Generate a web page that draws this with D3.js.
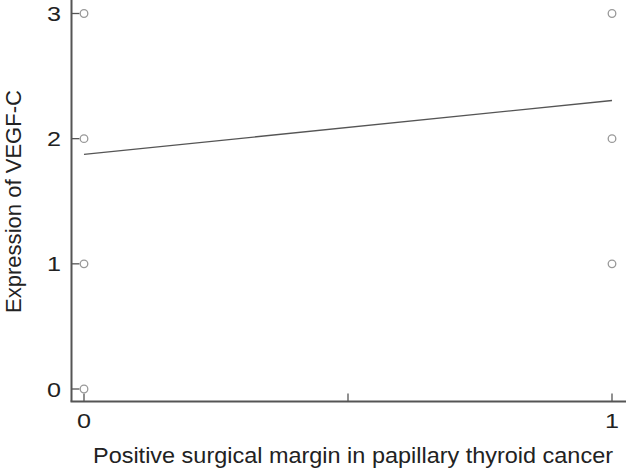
<!DOCTYPE html>
<html>
<head>
<meta charset="utf-8">
<script src="https://cdn.jsdelivr.net/npm/d3@7"></script>
<style>
  body { margin: 0; background: #fff; }
  text { font-family: "Liberation Sans", Arial, sans-serif; fill: #222; }
</style>
</head>
<body>
<svg width="628" height="468"></svg>
<script>
// observed points (margin group vs VEGF-C score)
var margin_x = [0, 0, 0, 0, 1, 1, 1];
var vegf_y   = [0, 1, 2, 3, 1, 2, 3];

// fitted line
var fit_x = [0, 1];
var fit_y = [1.875, 2.305];

var xTicks = [0, 0.5, 1];
var xTickLabels = ["0", "", "1"];
var yTicks = [0, 1, 2, 3];

var svg = d3.select("svg");

// scales
var x = d3.scaleLinear().domain([0, 1]).range([84, 612]);
var y = d3.scaleLinear().domain([0, 3]).range([389, 13.5]);

var axisX = 71.5, axisY = 401.5;

// y axis
svg.append("line")
  .attr("x1", axisX).attr("x2", axisX)
  .attr("y1", 0).attr("y2", axisY)
  .attr("stroke", "#555").attr("stroke-width", 2);

svg.selectAll(".ytick").data(yTicks).join("line")
  .attr("class", "ytick")
  .attr("x1", axisX).attr("x2", axisX + 8)
  .attr("y1", function(d) { return y(d); })
  .attr("y2", function(d) { return y(d); })
  .attr("stroke", "#555").attr("stroke-width", 1.3);

svg.selectAll(".ylab").data(yTicks).join("text")
  .attr("class", "ylab")
  .attr("x", 61)
  .attr("y", function(d) { return y(d); })
  .attr("dy", "0.36em")
  .attr("text-anchor", "end")
  .attr("font-size", 21)
  .attr("textLength", 14)
  .attr("lengthAdjust", "spacingAndGlyphs")
  .text(function(d) { return d; });

// x axis
svg.append("line")
  .attr("x1", axisX - 1).attr("x2", 626)
  .attr("y1", axisY).attr("y2", axisY)
  .attr("stroke", "#555").attr("stroke-width", 2);

svg.selectAll(".xtick").data(xTicks).join("line")
  .attr("class", "xtick")
  .attr("x1", function(d) { return x(d); })
  .attr("x2", function(d) { return x(d); })
  .attr("y1", axisY).attr("y2", axisY - 8)
  .attr("stroke", "#555").attr("stroke-width", 1.3);

svg.selectAll(".xlab").data(xTicks.filter(function(d, i) { return xTickLabels[i] !== ""; }))
  .join("text")
  .attr("class", "xlab")
  .attr("x", function(d) { return x(d) - 7; })
  .attr("y", 428)
  .attr("font-size", 21)
  .attr("textLength", 14)
  .attr("lengthAdjust", "spacingAndGlyphs")
  .text(function(d) { return xTickLabels[xTicks.indexOf(d)]; });

// axis titles
svg.append("text")
  .attr("x", 93).attr("y", 462.5)
  .attr("font-size", 22)
  .attr("textLength", 520)
  .attr("lengthAdjust", "spacingAndGlyphs")
  .text("Positive surgical margin in papillary thyroid cancer");

svg.append("text")
  .attr("transform", "translate(21,313) rotate(-90)")
  .attr("font-size", 22)
  .attr("textLength", 223)
  .attr("lengthAdjust", "spacingAndGlyphs")
  .text("Expression of VEGF-C");

// fit line
svg.append("path")
  .datum(fit_x.map(function(d, i) { return [d, fit_y[i]]; }))
  .attr("d", d3.line()
    .x(function(d) { return x(d[0]); })
    .y(function(d) { return y(d[1]); }))
  .attr("fill", "none")
  .attr("stroke", "#555")
  .attr("stroke-width", 1.3);

// points
svg.selectAll(".pt").data(margin_x).join("circle")
  .attr("class", "pt")
  .attr("cx", function(d) { return x(d); })
  .attr("cy", function(d, i) { return y(vegf_y[i]); })
  .attr("r", 3.8)
  .attr("fill", "#fff")
  .attr("stroke", "#999")
  .attr("stroke-width", 1.3);
</script>
</body>
</html>
